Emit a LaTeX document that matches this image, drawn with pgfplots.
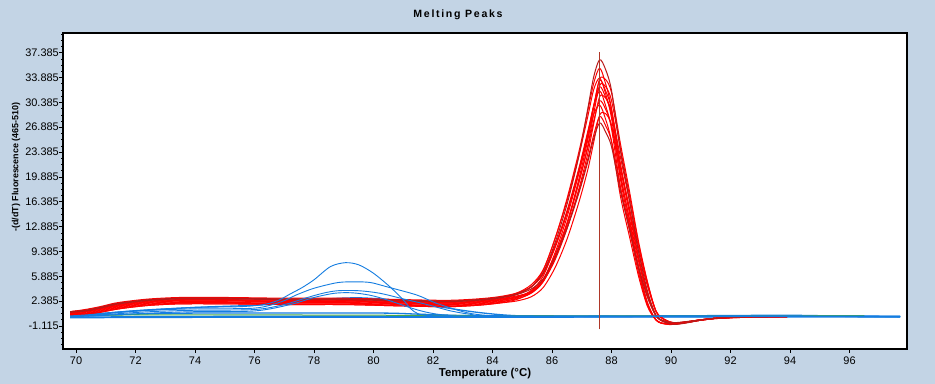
\documentclass[border=0pt]{standalone}
\usepackage{pgfplots}
\pgfplotsset{compat=1.18}
\usepackage{pgfplotstable}
\usepackage{fontspec}
\setmainfont{Liberation Sans}
\definecolor{bgc}{RGB}{195,212,229}
\definecolor{cblue}{RGB}{20,125,225}
\definecolor{cdred}{RGB}{185,25,25}
\definecolor{cgreen}{RGB}{70,170,70}
\definecolor{vline}{RGB}{175,55,40}

\pgfplotstableread{
x    r1   r2   r3   r4   r5   r6   r7   r8   r9   r10  r11  r12  r13  r14
69.8 0.8  0.7  0.5  0.9  0.6  0.9  0.5  0.8  0.6  0.8  0.4  0.7  0.9  0.4
70.3 1.0  0.9  0.6  1.1  0.8  1.2  0.6  1.0  0.7  1.0  0.5  0.9  1.1  0.5
70.8 1.4  1.3  1.0  1.5  1.2  1.6  0.9  1.4  1.1  1.4  0.8  1.3  1.5  0.8
71.3 1.9  1.7  1.4  2.0  1.6  2.1  1.3  1.8  1.5  1.9  1.2  1.7  2.0  1.2
71.8 2.2  2.0  1.7  2.3  1.9  2.4  1.6  2.1  1.8  2.2  1.5  2.0  2.3  1.5
72.5 2.5  2.3  2.0  2.6  2.2  2.7  1.9  2.4  2.1  2.5  1.8  2.3  2.6  1.8
73.5 2.7  2.5  2.2  2.8  2.4  2.9  2.1  2.6  2.3  2.7  2.0  2.5  2.8  2.0
75.0 2.7  2.5  2.2  2.8  2.4  2.9  2.1  2.6  2.3  2.7  2.0  2.5  2.8  2.0
77.0 2.6  2.4  2.1  2.7  2.3  2.8  2.0  2.5  2.2  2.6  1.9  2.4  2.7  1.9
79.0 2.6  2.4  2.1  2.7  2.3  2.8  2.0  2.5  2.2  2.6  1.9  2.4  2.7  1.9
81.0 2.4  2.2  1.9  2.5  2.1  2.6  1.8  2.3  2.0  2.4  1.7  2.2  2.5  1.7
82.5 2.3  2.1  1.8  2.4  2.0  2.5  1.7  2.2  1.9  2.3  1.6  2.1  2.4  1.6
83.5 2.5  2.3  2.0  2.6  2.2  2.7  1.9  2.4  2.1  2.5  1.8  2.3  2.6  1.8
84.2 2.8  2.6  2.3  2.9  2.5  3.0  2.2  2.7  2.4  2.8  2.1  2.6  2.9  2.1
84.8 3.4  3.3  2.7  3.5  2.9  3.5  2.8  3.1  2.9  3.4  2.4  3.0  3.3  2.6
85.3 4.4  4.4  3.5  4.7  3.6  4.4  3.9  3.7  3.7  4.4  3.0  3.8  4.1  3.6
85.7 6.4  6.7  5.1  6.8  5.2  6.2  5.9  5.2  5.4  6.3  4.3  5.4  5.5  5.4
86.1 10.6 11.2 8.5  11.2 8.5  9.9  10.1 8.2  8.9  10.2 7.1  8.5  8.6  9.2
86.5 16.0 16.8 13.3 16.5 13.1 14.7 15.1 12.6 13.4 14.9 11.1 12.7 12.6 14.2
86.9 22.8 23.4 19.6 22.9 19.1 20.8 21.1 18.2 19.1 20.5 16.3 17.9 17.6 20.4
87.2 29.5 29.2 25.1 28.4 24.3 26.0 26.3 23.2 24.0 25.4 20.9 22.4 22.0 25.8
87.4 34.0 33.1 29.7 32.2 28.8 30.0 29.8 27.4 27.8 28.7 24.8 25.8 25.3 29.9
87.6 36.4 35.2 33.7 33.8 32.8 32.6 32.0 31.2 30.6 30.0 28.6 28.4 27.5 33.5
87.8 35.0 33.0 33.6 31.6 32.6 31.1 29.9 31.0 29.4 28.0 28.8 27.1 26.2 32.0
88.0 32.0 29.4 31.7 28.1 30.6 28.6 26.6 29.0 27.0 24.8 27.1 24.9 24.1 29.4
88.3 23.5 20.4 24.5 19.5 23.8 21.1 18.4 22.6 19.9 17.1 21.2 18.4 17.8 21.7
88.6 16.6 13.8 17.9 13.2 17.3 14.8 12.4 16.5 14.0 11.5 15.5 12.9 12.5 15.3
88.9 9.5  7.3  10.9 7.0  10.6 8.5  6.5  10.1 8.1  6.0  9.5  7.4  7.2  8.8
89.2 3.9  2.3  5.2  2.1  5.1  3.5  1.9  4.9  3.3  1.7  4.6  3.1  3.0  3.6
89.5 0.3  -0.3 0.9  -0.3 0.9  0.3  -0.3 0.9  0.3  -0.3 0.9  0.3  0.3  0.3
89.8 -0.6 -0.85 -0.25 -0.8 -0.3 -0.55 -0.8 -0.25 -0.5 -0.8 -0.25 -0.5 -0.45 -0.6
90.1 -0.9 -0.9 -0.7 -0.85 -0.75 -0.8 -0.8 -0.7 -0.75 -0.8 -0.65 -0.7 -0.65 -0.85
90.5 -0.7 -0.65 -0.6 -0.6 -0.65 -0.6 -0.55 -0.6 -0.6 -0.55 -0.55 -0.55 -0.5 -0.65
91.0 -0.3 -0.3 -0.25 -0.3 -0.3 -0.25 -0.25 -0.3 -0.25 -0.25 -0.25 -0.25 -0.25 -0.3
91.6 0.0  0.0  0.0  0.0  -0.05 0.0 0.0  -0.05 0.0 0.0  0.0  0.0  0.0  0.0
92.5 0.15 0.15 0.15 0.1  0.1  0.15 0.15 0.1  0.15 0.15 0.15 0.15 0.15 0.15
93.9 0.2  0.2  0.2  0.2  0.2  0.2  0.2  0.2  0.2  0.2  0.2  0.2  0.2  0.2
}\redtab

\begin{document}
\begin{tikzpicture}
\fill[bgc] (0,0) rectangle (935bp,384bp);
\begin{axis}[
  at={(63bp,35bp)}, anchor=south west,
  scale only axis, width=844bp, height=316bp,
  xmin=69.56, xmax=97.93, ymin=-4.36, ymax=40.16,
  axis background/.style={fill=white},
  axis line style={black, line width=1.3bp},
  tick pos=left, tick align=outside,
  major tick length=4bp, minor tick length=2bp,
  every tick/.style={black, line width=0.6bp},
  xtick={70,72,74,76,78,80,82,84,86,88,90,92,94,96},
  xticklabels={70,72,74,76,78,80,82,84,86,88,90,92,94,96},
  ytick={-1.115,2.385,5.885,9.385,12.885,16.385,19.885,23.385,26.885,30.385,33.885,37.385},
  yticklabels={-1.115,2.385,5.885,9.385,12.885,16.385,19.885,23.385,26.885,30.385,33.885,37.385},
  minor ytick={-3.74,-2.865,-1.99,-0.24,0.635,1.51,3.26,4.135,5.01,6.76,7.635,8.51,10.26,11.135,12.01,13.76,14.635,15.51,17.26,18.135,19.01,20.76,21.635,22.51,24.26,25.135,26.01,27.76,28.635,29.51,31.26,32.135,33.01,34.76,35.635,36.51,38.26,39.135,40.01},
  ticklabel style={font=\fontsize{11}{13}\selectfont},
  yticklabel style={inner sep=0pt},
  /pgf/number format/assume math mode=true,
  title={Melting Peaks},
  title style={at={(0.468,1.0307)}, anchor=base, inner sep=0pt,
    font=\fontsize{10.6}{12}\selectfont\bfseries\addfontfeature{LetterSpace=16}},
  xlabel={Temperature (°C)},
  xlabel style={at={(0.5,-0.0886)}, anchor=base, inner sep=0pt,
    font=\fontsize{11.5}{13}\selectfont\bfseries},
  ylabel={-(d/dT) Fluorescence (465-510)},
  ylabel style={at={(-0.0557,0.576)}, anchor=center, inner sep=0pt,
    font=\fontsize{9}{11}\selectfont\bfseries},
  every axis plot/.append style={line width=1bp},
]
% blue baseline curves
\addplot[cblue, smooth, line width=1.3bp] coordinates {(69.8,0.3)(71,0.7)(72,1.0)(74,1.5)(76,1.8)(77.5,2.2)(78.5,2.7)(79.5,2.85)(80.5,2.6)(81.5,2.1)(82.5,1.4)(83.5,0.8)(84.5,0.4)(85.5,0.3)(90,0.3)(97.7,0.25)};
\addplot[cblue, smooth, line width=1.3bp] coordinates {(69.8,0.2)(71,0.4)(72.5,0.6)(74,0.7)(77,0.7)(80.3,0.7)(81.5,0.55)(83,0.35)(85,0.2)(90,0.2)(97.7,0.2)};
\addplot[cblue, line width=1.3bp] coordinates {(69.8,0.1)(72,0.2)(76,0.25)(80,0.25)(84,0.2)(86,0.15)(89,0.25)(91.5,0.35)(94,0.4)(95.5,0.3)(97.7,0.2)};
\addplot[cblue, line width=1.3bp] coordinates {(69.8,0.05)(74,0.1)(80,0.1)(84,0.1)(88,0.15)(92,0.15)(94,0.2)(97.7,0.15)};
\addplot[cgreen] coordinates {(69.8,0.35)(72,0.45)(76,0.45)(80,0.4)(84,0.35)(88,0.3)(92,0.35)(96.5,0.35)};
% red curves
\addplot[red, smooth] table[y=r2] {\redtab};
\addplot[red, smooth] table[y=r3] {\redtab};
\addplot[red, smooth] table[y=r4] {\redtab};
\addplot[red, smooth] table[y=r5] {\redtab};
\addplot[red, smooth] table[y=r6] {\redtab};
\addplot[red, smooth] table[y=r7] {\redtab};
\addplot[red, smooth] table[y=r8] {\redtab};
\addplot[red, smooth] table[y=r9] {\redtab};
\addplot[red, smooth] table[y=r10] {\redtab};
\addplot[red, smooth] table[y=r11] {\redtab};
\addplot[red, smooth] table[y=r12] {\redtab};
\addplot[red, smooth] table[y=r14] {\redtab};
\addplot[cdred, smooth] table[y=r1] {\redtab};
\addplot[cdred, smooth] table[y=r13] {\redtab};
% blue peak curves
\addplot[cblue, smooth, line width=0.9bp] coordinates {(69.8,0.3)(70.5,0.5)(71.5,0.9)(72.5,1.2)(74,1.5)(75.5,1.6)(76.3,1.9)(76.8,2.5)(77.2,3.4)(77.6,4.3)(78.0,5.4)(78.55,7.25)(79.05,7.8)(79.5,7.5)(80.0,6.3)(80.55,4.4)(81.0,2.55)(81.25,1.3)(81.5,0.6)(81.9,0.35)(82.5,0.3)(86,0.25)(90,0.3)(94,0.3)(97.7,0.25)};
\addplot[cblue, smooth, line width=0.9bp] coordinates {(69.8,0.2)(70.5,0.4)(71.5,0.8)(72.5,1.1)(74,1.3)(76,1.4)(76.9,2.3)(77.4,3.25)(78.0,4.2)(78.8,5.0)(79.4,5.1)(79.9,5.0)(80.45,4.4)(81.45,3.25)(82.1,2.1)(83.0,0.9)(83.6,0.45)(84.5,0.3)(88,0.2)(92,0.3)(97.7,0.2)};
\addplot[cblue, smooth, line width=0.9bp] coordinates {(69.8,0.2)(71,0.5)(72.5,0.9)(74,1.1)(76,1.2)(77.0,1.9)(77.7,2.8)(78.3,3.5)(78.8,3.85)(79.5,3.85)(80.2,3.5)(81.0,2.7)(81.8,1.9)(82.6,1.0)(83.3,0.5)(84,0.3)(90,0.25)(97.7,0.2)};
\addplot[cblue, smooth, line width=0.9bp] coordinates {(69.8,0.15)(71,0.4)(72.5,0.7)(74,0.9)(76,1.0)(77.2,1.9)(78.0,2.9)(78.7,3.5)(79.3,3.55)(79.9,3.2)(80.5,2.5)(81.2,1.5)(81.8,0.8)(82.5,0.4)(84,0.25)(97.7,0.2)};
% cursor line
\addplot[vline, line width=1bp] coordinates {(87.59,-1.6)(87.59,37.45)};
\end{axis}
\pgfresetboundingbox
\useasboundingbox (0,0) rectangle (935bp,384bp);
\end{tikzpicture}
\end{document}
